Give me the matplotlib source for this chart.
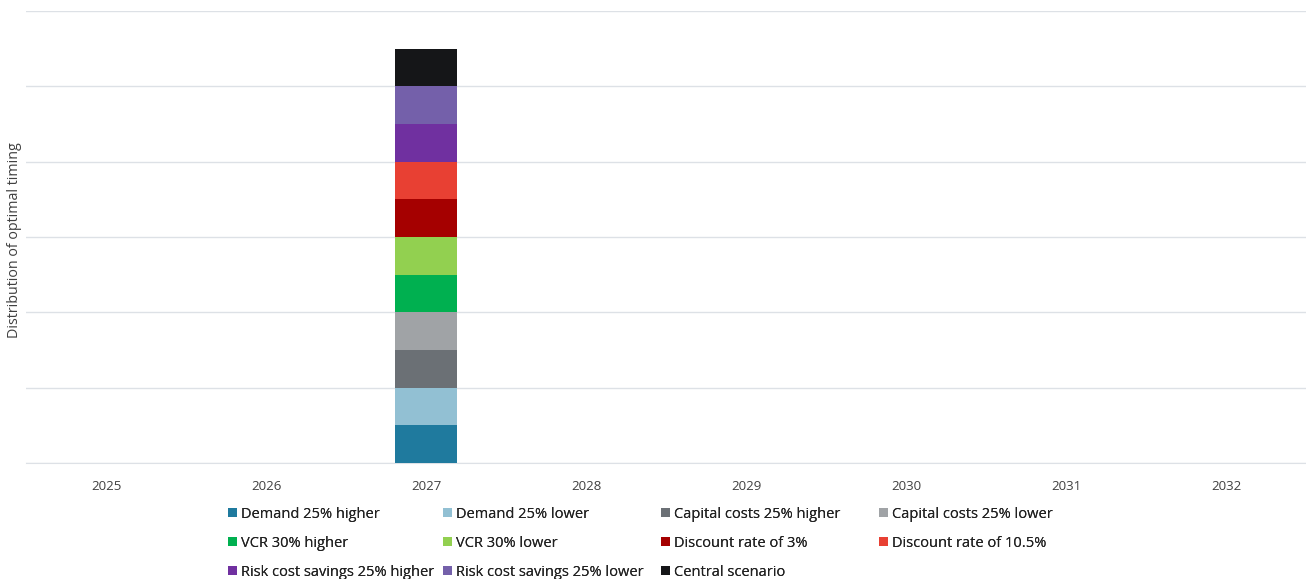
import numpy as np
import matplotlib.pyplot as plt
from matplotlib.patches import Patch

plt.rcParams['font.family'] = ['Open Sans', 'DejaVu Sans']

years = ['2025', '2026', '2027', '2028', '2029', '2030', '2031', '2032']
scenarios = ['Demand 25% higher', 'Demand 25% lower', 'Capital costs 25% higher',
             'Capital costs 25% lower', 'VCR 30% higher', 'VCR 30% lower',
             'Discount rate of 3%', 'Discount rate of 10.5%',
             'Risk cost savings 25% higher', 'Risk cost savings 25% lower',
             'Central scenario']
# optimal year per scenario -> one count each
optimal_year = ['2027'] * 11
colours = ['#1f7a9e', '#92c0d3', '#6b7075', '#a0a3a6', '#00b050', '#92d050',
           '#a50000', '#e84033', '#7030a0', '#7460aa', '#151618']

fig = plt.figure(figsize=(13.06, 5.79), dpi=100)
ax = fig.add_axes([26/1306, 1 - 463/579, 1 - 26/1306, (463 - 11)/579])

x = np.arange(len(years))
bottom = np.zeros(len(years))
for name, yr, col in zip(scenarios, optimal_year, colours):
    vals = np.array([1.0 if y == yr else 0.0 for y in years])
    ax.bar(x, vals, bottom=bottom, width=0.39, color=col, label=name, zorder=3)
    bottom += vals

ax.set_xlim(-0.5, len(years) - 0.5)
ax.set_ylim(0, 12)
ax.set_yticks(np.arange(0, 13, 2))
ax.set_yticklabels([])
ax.set_xticks(x)
ax.set_xticklabels(years, fontsize=9.5, color='#404040')
ax.tick_params(axis='both', length=0)
ax.tick_params(axis='x', pad=12)
ax.grid(axis='y', color='#dde1e6', linewidth=1, zorder=0)
for s in ['top', 'right', 'left']:
    ax.spines[s].set_visible(False)
ax.spines['bottom'].set_color('#dde1e6')
fig.text(15/1306, 1 - 240/579, 'Distribution of optimal timing', rotation=90,
         ha='center', va='center', fontsize=10.3, color='#404040')

# legend: 4 fixed-width columns, filled row by row
handles = [Patch(facecolor=c, label=n) for n, c in zip(scenarios, colours)]
col_x = [228, 443, 661, 879]
for k, cx in enumerate(col_x):
    idx = list(range(k, len(scenarios), 4))
    leg = fig.legend([handles[i] for i in idx], [scenarios[i] for i in idx],
                     loc='upper left', bbox_to_anchor=(cx/1306, 1 - 507/579),
                     frameon=False, fontsize=10.5, handlelength=0.6, handleheight=0.6,
                     handletextpad=0.3, labelspacing=0.95,
                     borderaxespad=0, borderpad=0, labelcolor='#222222')
    fig.add_artist(leg)

fig.savefig('out.png', dpi=100)
